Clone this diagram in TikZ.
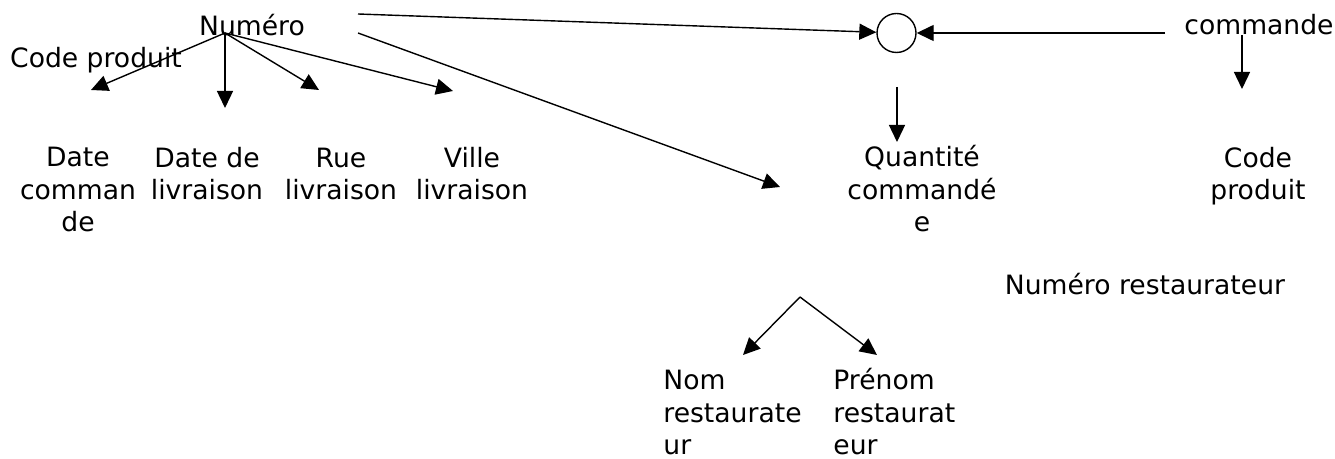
\documentclass[tikz,border=0pt]{standalone}
\usepackage{fontspec}
\setmainfont{DejaVu Sans}
\usetikzlibrary{arrows.meta}
\tikzset{
  arr/.style={-{Triangle[length=8.5pt,width=8pt]}, line width=0.7pt},
  lbl/.style={font=\fontsize{13.3}{16.25}\selectfont, inner sep=0pt, anchor=base},
}
\begin{document}
\begin{tikzpicture}[x=0.5pt,y=-0.5pt]
    \useasboundingbox (0,0) rectangle (1335,459);
    \node[lbl] (numero) at (252,36) {Numéro};
    \node[lbl] (codeprod) at (96,68) {Code produit};
    \node[lbl, align=center] (datecmd) at (78,232) {Date\\comman\\de};
    \node[lbl, align=center] (datelivr) at (207,200) {Date de\\livraison};
    \node[lbl, align=center] (ruelivr) at (341,200) {Rue\\livraison};
    \node[lbl, align=center] (villelivr) at (472,200) {Ville\\livraison};
    \node[lbl, align=center] (quantite) at (922,232) {Quantité\\commandé\\e};
    \node[lbl] (commande) at (1259,35) {commande};
    \node[lbl, align=center] (codeprodb) at (1258,200) {Code\\produit};
    \node[lbl] (numresto) at (1145,295) {Numéro restaurateur};
    \node[lbl, anchor=base west, align=left] (nom) at (663,455) {Nom\\restaurate\\ur};
    \node[lbl, anchor=base west, align=left] (prenom) at (833,455) {Prénom\\restaurat\\eur};
    \node[draw, circle, line width=0.7pt, minimum size=19.5pt, inner sep=0pt] (join) at (896.5,33) {};
    \coordinate (root) at (225,33);
    \coordinate (dc-tip) at (91,90);
    \coordinate (dl-tip) at (225,108);
    \coordinate (rl-tip) at (319,90);
    \coordinate (vl-tip) at (453,91);
    \foreach \t in {dc,dl,rl,vl}
    {
      \draw[arr] (root) -- (\t-tip);
    }
    \coordinate (num-a) at (358,14);
    \coordinate (num-b) at (358,33);
    \coordinate (num-b-tip) at (780,187);
    \coordinate (cmd-a) at (1165,33);
    \coordinate (cmd-b) at (1242,35);
    \coordinate (cmd-b-tip) at (1242,89);
    \coordinate (join-down) at (897,87);
    \coordinate (join-down-tip) at (897,142);
    \draw[arr] (num-a) -- (join);
    \draw[arr] (cmd-a) -- (join);
    \draw[arr] (num-b) -- (num-b-tip);
    \draw[arr] (cmd-b) -- (cmd-b-tip);
    \draw[arr] (join-down) -- (join-down-tip);
    \coordinate (apex) at (800,297);
    \coordinate (nom-tip) at (743,355);
    \coordinate (prenom-tip) at (877,355);
    \draw[arr] (apex) -- (nom-tip);
    \draw[arr] (apex) -- (prenom-tip);
\end{tikzpicture}
\end{document}
